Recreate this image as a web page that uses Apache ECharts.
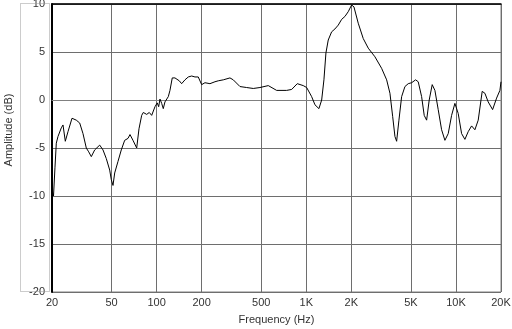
<!DOCTYPE html>
<html>
<head>
<meta charset="utf-8">
<script src="https://cdn.jsdelivr.net/npm/echarts@6/dist/echarts.min.js"></script>
<style>
  html, body { margin: 0; padding: 0; background: #fff; }
  #chart { width: 512px; height: 329px; }
</style>
</head>
<body>
<div id="chart"></div>
<script>
// frequency (Hz) and amplitude (dB)
const freqs = [
  20, 20.15, 20.47, 20.94, 21.37, 21.93, 23.08, 23.69, 24.54, 25.58, 26.26,
  27.21, 28.06, 29.07, 30.63, 32.22, 33.9, 35.17, 36.61, 38.57, 41.66, 43.83,
  46.11, 48.59, 49.8, 51.12, 52.47, 55.2, 58.08, 61.19, 64.38, 66.39, 69.52,
  73.6, 76.25, 79.48, 81.46, 83.62, 85.84, 89.33, 92.69, 95.0, 97.52, 101.0,
  103.2, 105.3, 108.1, 110.8, 113.7, 116.7, 119.7, 122.8, 127.2, 132.6, 136.2,
  141.7, 147, 154.7, 162.8, 171.5, 180.4, 189.8, 200, 210.4, 227.2, 245.4, 258.2,
  278.9, 309.1, 325.2, 360.6, 399.5, 442.4, 490.3, 557.3, 633.9, 739.4, 798.7,
  870.4, 954.5, 1006, 1086, 1143, 1215, 1267, 1312, 1353, 1402, 1477, 1554,
  1635, 1723, 1812, 1907, 2009, 2082, 2224, 2402, 2595, 2876, 3187, 3443,
  3623, 3776, 3912, 4015, 4160, 4336, 4562, 4799, 5057, 5377, 5597, 5897,
  6137, 6368, 6628, 6941, 7236, 7612, 8020, 8440, 8880, 9354, 9841, 10352,
  10910, 11478, 12075, 12724, 13386, 14084, 14976, 15610, 16424, 17576,
  18690, 19664, 20000
]
const amps = [
  -9.4, -9.5, -10.0, -7.0, -4.5, -3.8, -2.9, -2.6, -4.3, -3.3, -3.1,
  -1.9, -1.7, -2.1, -2.4, -3.5, -5.0, -5.4, -5.9, -5.2, -4.7, -5.2,
  -6.1, -7.3, -8.3, -8.9, -7.6, -6.4, -5.2, -4.2, -4.0, -3.6, -4.2,
  -5.0, -3.0, -1.6, -1.3, -1.5, -1.5, -1.3, -1.6, -1.4, -0.7, -0.3,
  -0.7, 0.1, -0.35, -0.9, -0.2, 0.0, 0.35, 1.0, 2.3, 2.3, 2.4,
  2.0, 1.7, 2.1, 2.4, 2.5, 2.4, 2.4, 1.6, 1.8, 1.7, 1.9, 2.0,
  2.1, 2.3, 2.1, 1.4, 1.3, 1.2, 1.3, 1.5, 1.0, 1.0, 1.1,
  1.7, 1.5, 1.3, 0.35, -0.5, -0.9, 0.0, 2.1, 4.9, 6.25, 7.1, 7.4,
  7.8, 8.4, 8.7, 9.2, 9.9, 9.7, 8.0, 6.4, 5.4, 4.5, 3.3, 2.1,
  0.7, -1.7, -3.8, -4.3, -2.1, 0.35, 1.4, 1.7, 1.8, 2.1, 1.9, 0.35,
  -1.6, -2.1, 0.0, 1.6, 1.0, -1.0, -3.1, -4.2, -3.5, -1.6, -0.35, -1.4,
  -3.5, -4.1, -3.3, -2.7, -3.1, -2.1, 0.9, 0.7, -0.2, -1.0,
  0.2, 1.0, 1.9
]
const xTicks = [20, 50, 100, 200, 500, 1000, 2000, 5000, 10000, 20000]
const xTickLabels = ['20', '50', '100', '200', '500', '1K', '2K', '5K', '10K', '20K']

const chart = echarts.init(document.getElementById('chart'))
const labelFont = { fontFamily: 'Liberation Sans', fontSize: 11, color: '#333' }

chart.setOption({
  animation: false,
  backgroundColor: '#fff',
  grid: {
    left: 52, right: 11, top: 4, bottom: 37,
    outerBoundsMode: 'none',
    containLabel: false,
    show: true, borderColor: '#808080', borderWidth: 1
  },
  xAxis: [{
    type: 'log',
    min: 20,
    max: 20000,
    name: 'Frequency (Hz)',
    nameLocation: 'middle',
    nameGap: 22,
    nameTextStyle: labelFont,
    axisLine: { lineStyle: { color: '#808080' } },
    axisTick: { show: false, customValues: xTicks },
    axisLabel: Object.assign({
      customValues: xTicks,
      margin: 5,
      hideOverlap: false,
      formatter: v => xTickLabels[xTicks.indexOf(Math.round(v))] || ''
    }, labelFont),
    splitLine: { show: true, lineStyle: { color: '#6e6e6e', width: 1 } }
  }, {
    type: 'log',
    position: 'top',
    min: 20,
    max: 20000,
    axisLine: { show: true, lineStyle: { color: '#000', width: 1.5 } },
    axisTick: { show: false },
    axisLabel: { show: false },
    splitLine: { show: false }
  }],
  yAxis: {
    type: 'value',
    min: -20,
    max: 10,
    interval: 5,
    name: 'Amplitude (dB)',
    nameLocation: 'middle',
    nameRotate: 90,
    nameGap: 38,
    nameTextStyle: Object.assign({ padding: [0, 0, 0, 36] }, labelFont),
    axisLine: { show: true, lineStyle: { color: '#000', width: 2 } },
    axisTick: { show: false },
    axisLabel: Object.assign({ margin: 7 }, labelFont),
    splitLine: { show: true, lineStyle: { color: '#6e6e6e', width: 1 } }
  },
  graphic: [{
    type: 'rect',
    shape: { x: 20.5, y: 3.5, width: 29, height: 288 },
    style: { fill: 'none', stroke: '#999', lineWidth: 1, lineDash: [1, 1] },
    z: 1
  }],
  series: [{
    type: 'line',
    data: freqs.map((f, i) => [f, amps[i]]),
    showSymbol: false,
    lineStyle: { color: '#000', width: 1 },
    z: 5
  }]
})
</script>
</body>
</html>
